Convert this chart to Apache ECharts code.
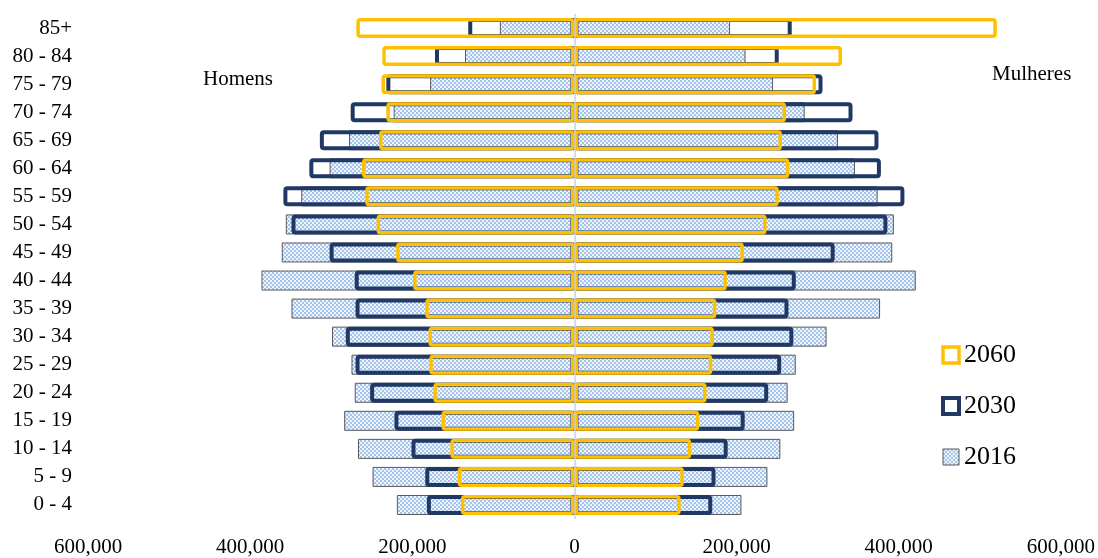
<!DOCTYPE html>
<html>
<head>
<meta charset="utf-8">
<script src="https://cdn.jsdelivr.net/npm/echarts@6/dist/echarts.min.js"></script>
<style>
html,body{margin:0;padding:0;background:#fff;}
#chart{width:1098px;height:558px;}
</style>
</head>
<body>
<div id="chart"></div>
<script>
// Age groups (bottom to top)
var categories = ['0 - 4','5 - 9','10 - 14','15 - 19','20 - 24','25 - 29','30 - 34','35 - 39','40 - 44','45 - 49','50 - 54','55 - 59','60 - 64','65 - 69','70 - 74','75 - 79','80 - 84','85+'];
// Men (Homens), positive numbers; drawn to the left
var men2016 = [219000,249000,267000,284000,271000,275000,299000,349000,386000,361000,356000,337000,302000,278000,223000,178000,135000,92000];
var men2030 = [182000,184000,201000,222000,252000,270000,282000,270000,271000,302000,349000,359000,327000,314000,276000,232000,172000,131000];
var men2060 = [140000,144000,153000,164000,174000,179000,180000,184000,199000,220000,244000,258000,262000,241000,232000,238000,237000,269000];
// Women (Mulheres)
var women2016 = [206000,238000,254000,271000,263000,273000,311000,377000,421000,392000,394000,374000,346000,325000,284000,245000,211000,192000];
var women2030 = [170000,174000,189000,210000,239000,255000,270000,264000,273000,321000,386000,407000,378000,375000,343000,306000,252000,268000];
var women2060 = [131000,135000,144000,154000,163000,170000,172000,175000,188000,209000,237000,252000,265000,256000,261000,298000,330000,521000];
var xTicks = {min:-600000, max:600000, interval:200000};
var years = ['2060','2030','2016'];

var serif = "'Liberation Serif','Times New Roman',serif";

// checkered pattern for 2016
var pc = document.createElement('canvas');
pc.width = 4; pc.height = 4;
var pctx = pc.getContext('2d');
pctx.fillStyle = '#eef4fc'; pctx.fillRect(0,0,4,4);
pctx.fillStyle = '#a6c4ea'; pctx.fillRect(0,0,2,2); pctx.fillRect(2,2,2,2);
var pattern = {image: pc, repeat: 'repeat'};

function neg(a){ return a.map(function(v){ return -v; }); }
function fmt(v){ return Math.abs(v).toString().replace(/\B(?=(\d{3})+(?!\d))/g, ','); }

var style2016 = {color: pattern, borderColor: '#595959', borderWidth: 1};
var style2030 = {color: 'rgba(0,0,0,0)', borderColor: '#1f3864', borderWidth: 4, borderRadius: 2};
var style2060 = {color: 'rgba(0,0,0,0)', borderColor: '#ffc000', borderWidth: 3.5, borderRadius: 2};

function bar(name, data, st, z){
  return {name: name, type: 'bar', data: data, barWidth: 20, barGap: '-100%', z: z,
    itemStyle: st, silent: true, animation: false};
}

var s = [
  bar(years[2], neg(men2016), style2016, 2),
  bar(years[2], women2016, style2016, 2),
  bar(years[1], neg(men2030), style2030, 3),
  bar(years[1], women2030, style2030, 3),
  bar(years[0], neg(men2060), style2060, 4),
  bar(years[0], women2060, style2060, 4)
];
s[0].markLine = {silent: true, symbol: ['none','none'], label: {show: false},
  lineStyle: {color: '#d0d0d0', width: 1.5, type: 'solid'}, data: [{xAxis: 0}], animation: false};

var chart = echarts.init(document.getElementById('chart'));
chart.setOption({
  animation: false,
  grid: {left: 88, right: 35, top: 14, bottom: 35, containLabel: false},
  xAxis: {type: 'value', min: xTicks.min, max: xTicks.max, interval: xTicks.interval,
    axisLine: {show: false}, axisTick: {show: false}, splitLine: {show: false},
    axisLabel: {formatter: fmt, fontFamily: serif, fontSize: 21, color: '#000', margin: 18}},
  yAxis: {type: 'category', data: categories,
    axisLine: {show: false, onZero: false}, axisTick: {show: false},
    axisLabel: {fontFamily: serif, fontSize: 21, color: '#000', margin: 16}},
  legend: {orient: 'vertical', left: 941, top: 342, padding: 0, itemWidth: 16, itemHeight: 16, itemGap: 25,
    icon: 'rect', selectedMode: false,
    textStyle: {fontFamily: serif, fontSize: 26, color: '#000', padding: [0,0,0,0]},
    data: [
      {name: years[0], itemStyle: {color: '#fff', borderColor: '#ffc000', borderWidth: 3.5}},
      {name: years[1], itemStyle: {color: '#fff', borderColor: '#1f3864', borderWidth: 4}},
      {name: years[2], itemStyle: {color: pattern, borderColor: '#595959', borderWidth: 1}}
    ]},
  graphic: [
    {type: 'text', left: 203, top: 69, silent: true,
      style: {text: 'Homens', font: '21px ' + serif, fill: '#000'}},
    {type: 'text', left: 992, top: 64, silent: true,
      style: {text: 'Mulheres', font: '21px ' + serif, fill: '#000'}}
  ],
  series: s
});
</script>
</body>
</html>
